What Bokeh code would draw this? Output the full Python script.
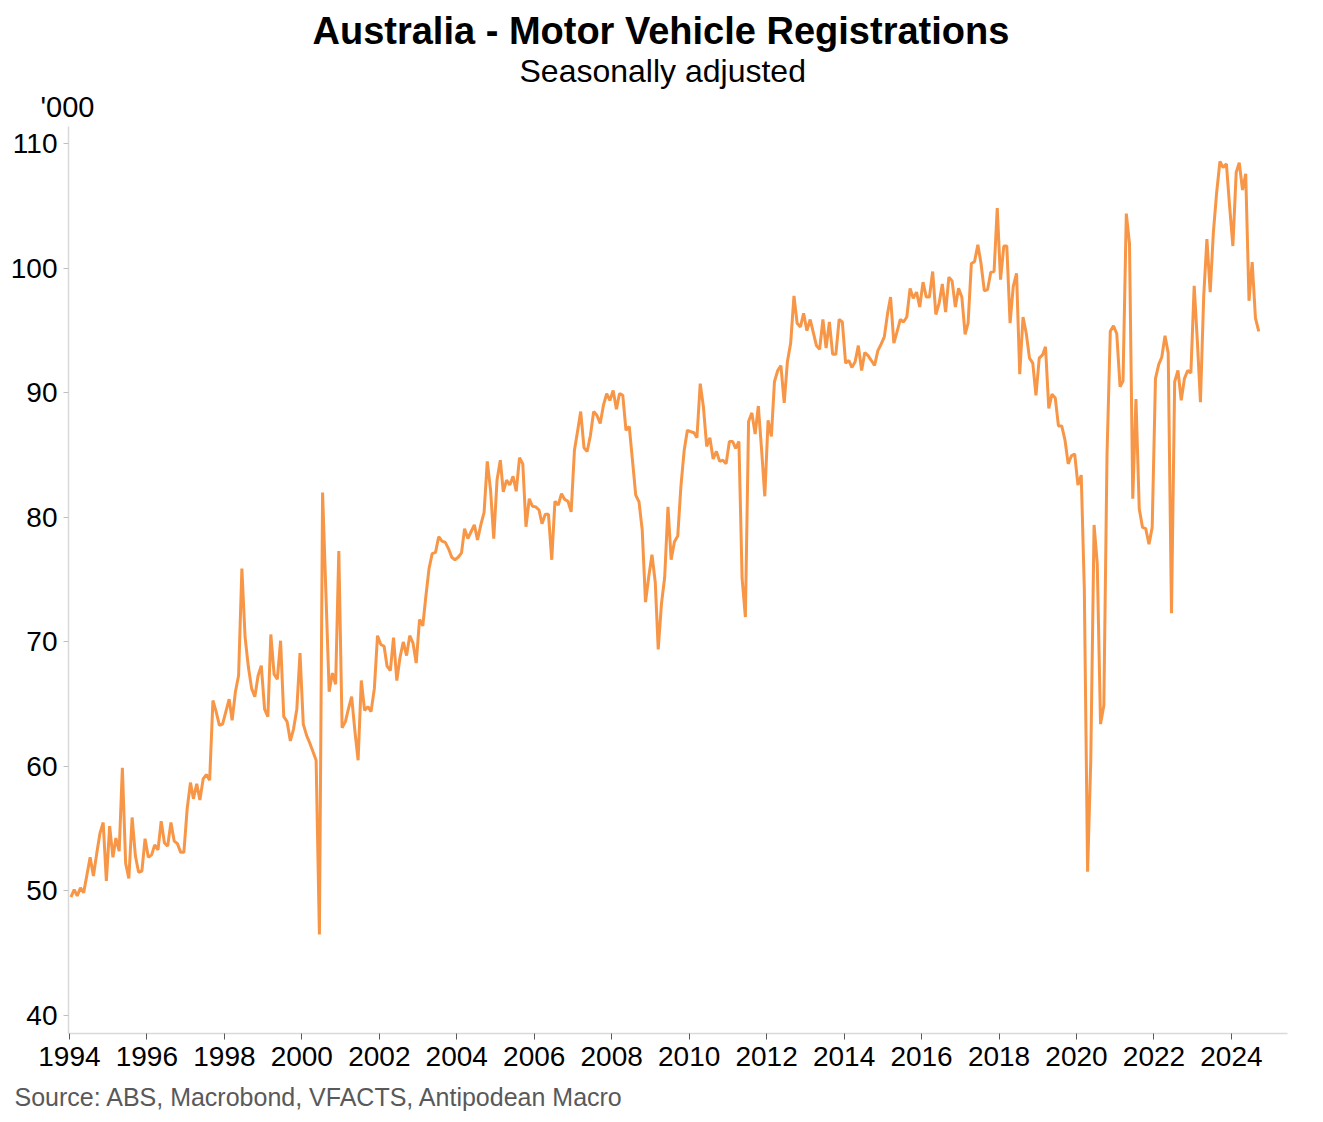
import pandas as pd
from bokeh.plotting import figure
from bokeh.models import ColumnDataSource, FixedTicker, DatetimeTickFormatter, Range1d, Title
from bokeh.embed import file_html
from bokeh.resources import INLINE

# Monthly motor vehicle registrations ('000), seasonally adjusted, from Jan 1994
FIRST_MONTH = "1994-01-01"
regs_1994_1998 = [
    49.5, 50.1, 49.6, 50.25, 49.85, 51.3, 52.7, 51.2, 53.0, 54.6, 55.5, 50.8,
    55.2, 52.7, 54.25, 53.2, 59.9, 52.2, 51.0, 55.9, 52.8, 51.5, 51.6, 54.2,
    52.7, 52.9, 53.7, 53.3, 55.6, 53.85, 53.6, 55.5, 54.0, 53.8, 53.1, 53.1,
    56.6, 58.7, 57.4, 58.6, 57.3, 59.0, 59.35, 58.9, 65.3, 64.4, 63.3, 63.4,
    64.4, 65.4, 63.7, 66.0, 67.3, 75.9, 70.4, 68.0, 66.25, 65.6, 67.3, 68.1,
]
regs_1999_2003 = [
    64.6, 64.0, 70.6, 67.4, 67.0, 70.1, 64.0, 63.6, 62.05, 63.0, 64.6, 69.1,
    63.4, 62.5, 61.9, 61.2, 60.5, 46.5, 82.0, 74.0, 66.0, 67.5, 66.6, 77.3,
    63.1, 63.6, 64.6, 65.6, 62.9, 60.5, 66.9, 64.5, 64.8, 64.4, 66.25, 70.5,
    69.8, 69.65, 68.05, 67.7, 70.35, 66.9, 68.75, 70.0, 68.9, 70.5, 69.9, 68.3,
    71.8, 71.3, 73.6, 75.9, 77.1, 77.2, 78.45, 78.1, 78.0, 77.5, 76.8, 76.6,
]
regs_2004_2008 = [
    76.8, 77.15, 79.1, 78.3, 78.85, 79.4, 78.2, 79.4, 80.4, 84.5, 82.2, 78.3,
    83.0, 84.6, 82.05, 83.0, 82.6, 83.3, 82.1, 84.8, 84.3, 79.25, 81.5, 80.9,
    80.85, 80.6, 79.5, 80.25, 80.25, 76.6, 81.3, 81.0, 81.9, 81.45, 81.3, 80.45,
    85.4, 87.0, 88.5, 85.6, 85.3, 86.6, 88.5, 88.2, 87.55, 89.0, 89.95, 89.4,
    90.2, 88.7, 89.95, 89.8, 87.0, 87.3, 84.6, 81.8, 81.25, 79.0, 73.2, 75.2,
]
regs_2009_2013 = [
    77.0, 74.8, 69.4, 73.1, 75.2, 80.85, 76.6, 78.05, 78.5, 82.5, 85.4, 87.0,
    86.9, 86.8, 86.4, 90.75, 88.9, 85.7, 86.4, 84.7, 85.3, 84.5, 84.6, 84.3,
    86.1, 86.1, 85.55, 86.1, 75.1, 72.0, 87.7, 88.4, 86.7, 88.95, 85.4, 81.7,
    87.8, 86.5, 90.9, 91.8, 92.2, 89.2, 92.5, 94.0, 97.8, 95.6, 95.3, 96.4,
    95.0, 95.9, 94.9, 93.8, 93.5, 95.9, 93.6, 95.7, 93.1, 93.1, 95.9, 95.7,
]
regs_2014_2018 = [
    92.4, 92.6, 92.05, 92.5, 93.8, 91.8, 93.25, 93.0, 92.6, 92.2, 93.4, 93.9,
    94.5, 96.4, 97.7, 94.0, 94.9, 95.9, 95.7, 96.1, 98.4, 97.6, 98.1, 96.9,
    98.9, 97.7, 97.7, 99.75, 96.3, 97.2, 98.75, 96.5, 99.3, 99.0, 96.9, 98.4,
    97.7, 94.7, 95.6, 100.4, 100.55, 101.9, 100.4, 98.2, 98.3, 99.7, 99.75, 104.85,
    99.1, 101.8, 101.8, 95.6, 98.55, 99.6, 91.5, 96.1, 94.75, 92.8, 92.4, 89.8,
]
regs_2019_2024 = [
    92.8, 93.05, 93.7, 88.75, 89.9, 89.6, 87.35, 87.35, 86.2, 84.3, 84.95, 85.1,
    82.6, 83.4, 74.25, 51.55, 60.5, 79.4, 76.3, 63.4, 64.9, 85.0, 94.95, 95.4,
    94.75, 90.5, 90.95, 104.4, 102.0, 81.5, 89.5, 80.7, 79.2, 79.1, 77.85, 79.2,
    91.15, 92.3, 92.85, 94.6, 93.2, 72.3, 90.9, 91.8, 89.4, 91.15, 91.8, 91.6,
    98.6, 94.0, 89.25, 97.8, 102.35, 98.1, 102.9, 106.1, 108.6, 108.1, 108.4, 105.0,
    101.8, 107.7, 108.5, 106.3, 107.6, 97.4, 100.5, 96.0, 94.95,
]
tick_years = list(range(1994, 2025, 2))
y_ticks = [40, 50, 60, 70, 80, 90, 100, 110]

TITLE = "Australia - Motor Vehicle Registrations"
SUBTITLE = "Seasonally adjusted"
UNIT = "'000"
SOURCE = "Source: ABS, Macrobond, VFACTS, Antipodean Macro"

values = (regs_1994_1998 + regs_1999_2003 + regs_2004_2008 +
          regs_2009_2013 + regs_2014_2018 + regs_2019_2024)
dates = pd.date_range(FIRST_MONTH, periods=len(values), freq="MS") + pd.Timedelta(days=14)
src = ColumnDataSource(dict(date=dates, value=values))

FONT = "Liberation Sans"

p = figure(width=1323, height=1122, x_axis_type="datetime", title=None,
           output_backend="svg", toolbar_location=None,
           min_border_left=68, min_border_right=36,
           min_border_top=126, min_border_bottom=89)
p.x_range = Range1d(pd.Timestamp("1993-12-23"), pd.Timestamp("2025-06-13"))
p.y_range = Range1d(38.55, 111.4)

p.line("date", "value", source=src, line_color="#F79646", line_width=3)

p.outline_line_color = None
p.background_fill_color = "white"
p.border_fill_color = "white"
p.grid.visible = False

xa = p.xaxis[0]
xa.ticker = FixedTicker(ticks=[pd.Timestamp(f"{y}-01-01").value / 1e6 for y in tick_years])
xa.formatter = DatetimeTickFormatter(years="%Y", months="%Y", days="%Y", hours="%Y")
xa.axis_line_color = "#d9d9d9"
xa.axis_line_width = 1.5
xa.major_tick_line_color = "#595959"
xa.major_tick_out = 6
xa.major_tick_in = 0
xa.minor_tick_line_color = None
xa.major_label_text_font = FONT
xa.major_label_text_font_size = "28px"
xa.major_label_text_color = "#000000"
xa.major_label_standoff = 7

ya = p.yaxis[0]
ya.ticker = FixedTicker(ticks=y_ticks)
ya.axis_line_color = "#d9d9d9"
ya.axis_line_width = 1.5
ya.major_tick_line_color = "#bfbfbf"
ya.major_tick_out = 5
ya.major_tick_in = 0
ya.minor_tick_line_color = None
ya.major_label_text_font = FONT
ya.major_label_text_font_size = "28px"
ya.major_label_text_color = "#000000"
ya.major_label_standoff = 6

# Titles stacked above the frame, source note below the x axis
p.add_layout(Title(text=UNIT, align="left", offset=-28, standoff=7,
                   text_font=FONT, text_font_size="29px", text_font_style="normal",
                   text_color="#000000"), "above")
p.add_layout(Title(text=SUBTITLE, align="left", offset=451, standoff=-6,
                   text_font=FONT, text_font_size="32px", text_font_style="normal",
                   text_color="#000000"), "above")
p.add_layout(Title(text=TITLE, align="left", offset=244, standoff=3,
                   text_font=FONT, text_font_size="38px", text_font_style="bold",
                   text_color="#000000"), "above")
p.add_layout(Title(text=SOURCE, align="left", offset=-54, standoff=24,
                   text_font=FONT, text_font_size="25px", text_font_style="normal",
                   text_color="#595959"), "below")

open("out.html", "w").write(file_html(p, INLINE))
